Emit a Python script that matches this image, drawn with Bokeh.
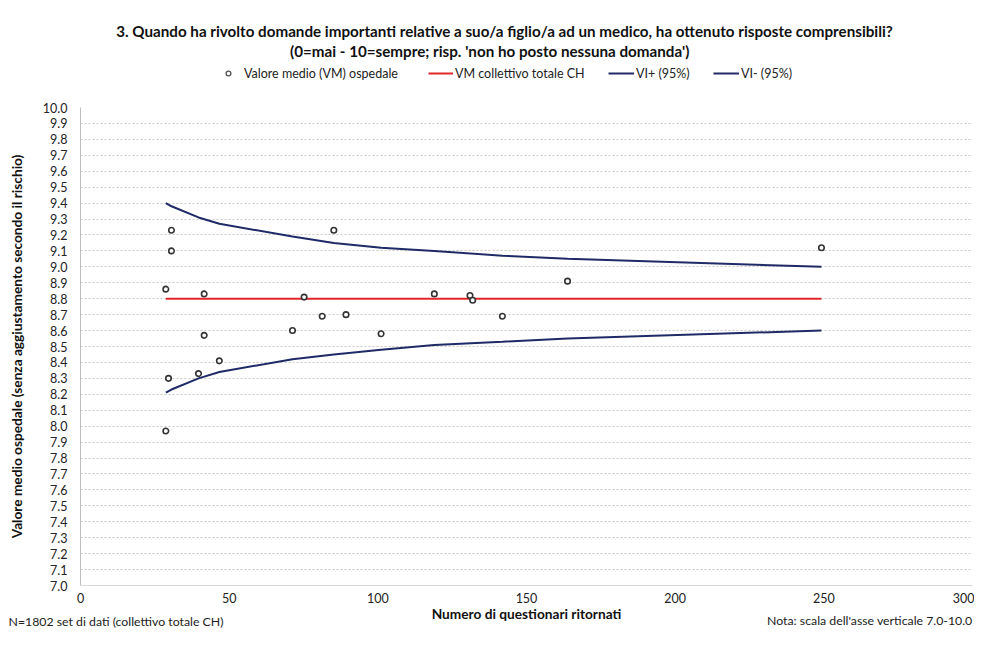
import numpy as np
from bokeh.plotting import figure
from bokeh.layouts import column
from bokeh.models import (Range1d, FixedTicker, NumeralTickFormatter, Legend, LegendItem, Label, Title)
from bokeh.embed import file_html
from bokeh.resources import INLINE

# ---- data ----
n_hosp = [28.7, 28.7, 29.6, 30.6, 30.6, 39.7, 41.6, 41.6, 46.7, 71.3, 75.2,
          81.3, 85.2, 89.3, 101.1, 119.0, 131.0, 131.9, 141.9, 163.8, 249.2]
vm_hosp = [8.86, 7.97, 8.30, 9.23, 9.10, 8.33, 8.83, 8.57, 8.41, 8.60, 8.81,
           8.69, 9.23, 8.70, 8.58, 8.83, 8.82, 8.79, 8.69, 8.91, 9.12]
ci_n = [28.7, 30.6, 39.7, 46.7, 71.3, 85.2, 101.1, 119.0, 141.9, 163.8, 249.2]
ci_upper = [9.40, 9.38, 9.31, 9.27, 9.19, 9.15, 9.12, 9.10, 9.07, 9.05, 9.00]
ci_lower = [8.21, 8.23, 8.30, 8.34, 8.42, 8.45, 8.48, 8.51, 8.53, 8.55, 8.60]
vm_total = 8.80
vm_n = [28.7, 249.2]
x_ticks = [0, 50, 100, 150, 200, 250, 300]
y_ticks = [round(7.0 + 0.1 * i, 1) for i in range(31)]

title1 = "3. Quando ha rivolto domande importanti relative a suo/a figlio/a ad un medico, ha ottenuto risposte comprensibili?"
title2 = "(0=mai - 10=sempre;  risp. 'non ho posto nessuna domanda')"
x_title = "Numero di questionari ritornati"
y_title = "Valore medio ospedale (senza aggiustamento secondo il rischio)"
foot_left = "N=1802 set di dati (collettivo totale CH)"
foot_right = "Nota: scala dell'asse verticale 7.0-10.0"

FONT = "Lato"
W = 974
HEAD_H = 90          # page y 0..90
MAIN_H = 517         # page y 90..607
FOOT_H = 22          # page y 607..629
FRAME_L, FRAME_R = 80, 972
FRAME_TOP, FRAME_BOT = 107, 585

NAVY = "#1f2a66"
RED = "#e3262b"
TXT = "#111111"
nan = float("nan")


def blank(h):
    f = figure(width=W, height=h, output_backend="svg", toolbar_location=None,
               x_axis_type=None, y_axis_type=None,
               x_range=Range1d(0, 1), y_range=Range1d(0, 1),
               min_border_left=0, min_border_right=0, min_border_top=0, min_border_bottom=0)
    f.outline_line_color = None
    return f


def lab(f, fig_top, fig_h, text, X, Y, size, bold=False, align="center", color=TXT):
    # X, Y = page position; the frames of the stacked figures start at FRAME_L
    f.add_layout(Label(x=X - FRAME_L, y=fig_top + fig_h - Y, x_units="screen", y_units="screen",
                       text=text, text_font=FONT, text_font_size=size,
                       text_font_style="bold" if bold else "normal",
                       text_align=align, text_baseline="middle", text_color=color))


# ---------------- header: title + legend ----------------
head = blank(HEAD_H)
lab(head, 0, HEAD_H, title1, 504, 30, "15.2px", bold=True)
lab(head, 0, HEAD_H, title2, 491, 50, "15.2px", bold=True)

h_pts = head.scatter(x=[nan], y=[nan], marker="circle", size=5, fill_color="white",
                     line_color="#555555", line_width=1.3)
h_red = head.line(x=[nan, nan], y=[nan, nan], line_color=RED, line_width=2)
h_up = head.line(x=[nan, nan], y=[nan, nan], line_color=NAVY, line_width=2)
h_lo = head.line(x=[nan, nan], y=[nan, nan], line_color=NAVY, line_width=2)

LH = 16
LEG_CY = 73


def add_leg(renderer, text, X, gw, standoff):
    lg = Legend(items=[LegendItem(label=text, renderers=[renderer])],
                location=(X - FRAME_L, HEAD_H - LH - (LEG_CY - LH / 2)),
                orientation="horizontal", padding=0, margin=0, spacing=0,
                glyph_width=gw, glyph_height=LH, label_height=LH, label_standoff=standoff,
                label_text_font=FONT, label_text_font_size="12.5px",
                label_text_color="#222222", border_line_color=None,
                background_fill_alpha=0)
    head.add_layout(lg, "center")


add_leg(h_pts, "Valore medio (VM) ospedale", 222, 12, 10)
add_leg(h_red, "VM collettivo totale CH", 428, 25, 2)
add_leg(h_up, "VI+ (95%)", 608, 26, 2)
add_leg(h_lo, "VI- (95%)", 713, 26, 2)

# ---------------- main plot ----------------
p = figure(width=W, height=MAIN_H, output_backend="svg", toolbar_location=None,
           x_range=Range1d(0, 300), y_range=Range1d(7.0, 10.0),
           min_border_left=FRAME_L, min_border_right=W - FRAME_R,
           min_border_top=FRAME_TOP - HEAD_H,
           min_border_bottom=HEAD_H + MAIN_H - FRAME_BOT)
p.outline_line_color = None

p.xaxis.ticker = FixedTicker(ticks=x_ticks)
p.yaxis.ticker = FixedTicker(ticks=y_ticks)
p.yaxis.formatter = NumeralTickFormatter(format="0.0")
for ax in (p.xaxis, p.yaxis):
    ax.major_tick_out = 0
    ax.major_tick_in = 0
    ax.minor_tick_out = 0
    ax.minor_tick_in = 0
    ax.major_label_text_font = FONT
    ax.major_label_text_font_size = "12.5px"
    ax.major_label_text_color = "#222222"
p.yaxis.major_label_standoff = 13
p.xaxis.major_label_standoff = 7
p.yaxis.axis_line_color = "#bfbfbf"
p.xaxis.axis_line_color = "#d9d9d9"

p.yaxis.axis_label = y_title
p.yaxis.axis_label_text_font = FONT
p.yaxis.axis_label_text_font_size = "13.7px"
p.yaxis.axis_label_text_font_style = "bold"
p.yaxis.axis_label_text_color = TXT
p.yaxis.axis_label_standoff = 15

p.xgrid.grid_line_color = None
p.ygrid.grid_line_color = "#c8c8c8"
p.ygrid.grid_line_dash = "2 2"
p.ygrid.grid_line_width = 1

p.line(ci_n, ci_upper, line_color=NAVY, line_width=2)
p.line(ci_n, ci_lower, line_color=NAVY, line_width=2)
p.line(vm_n, [vm_total, vm_total], line_color=RED, line_width=2)
p.scatter(n_hosp, vm_hosp, marker="circle", size=5.5, fill_color="white",
          line_color="#333333", line_width=1.6)

# ---------------- footer: texts as side-panel titles (not clipped to the frame) ----------------
foot = blank(FOOT_H)
foot.add_layout(Title(text=foot_left, align="left", offset=8 - FRAME_L, vertical_align="top",
                      standoff=-17, text_font=FONT, text_font_size="12.3px",
                      text_font_style="normal", text_color="#222222"), "above")
foot.add_layout(Title(text=foot_right, align="right", offset=0, vertical_align="top",
                      standoff=-14, text_font=FONT, text_font_size="12.3px",
                      text_font_style="normal", text_color="#222222"), "above")
foot.add_layout(Title(text=x_title, align="center", offset=527 - (FRAME_L + FRAME_R) / 2,
                      vertical_align="middle", standoff=-7, text_font=FONT,
                      text_font_size="13.7px", text_font_style="bold", text_color=TXT), "above")

layout = column(head, p, foot, spacing=0)
open("out.html", "w").write(file_html(layout, INLINE))
